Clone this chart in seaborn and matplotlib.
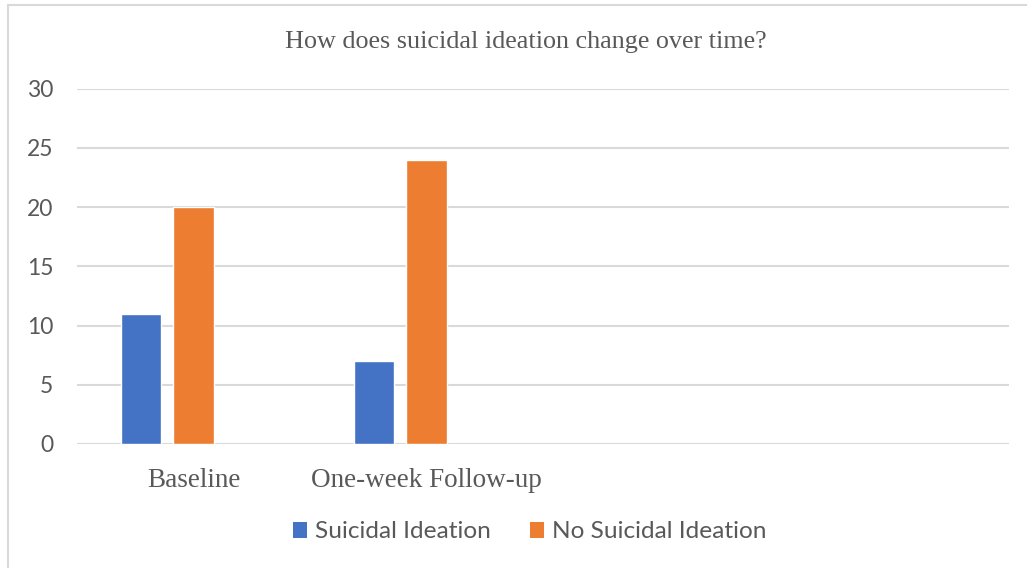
import matplotlib
matplotlib.use("Agg")
import matplotlib.pyplot as plt
import seaborn as sns
import pandas as pd
from matplotlib.lines import Line2D
from matplotlib.patches import Patch

# ---- data ----
categories = ["Baseline", "One-week Follow-up"]
empty_slots = ["", " "]          # two empty category slots on the right
series_names = ["Suicidal Ideation", "No Suicidal Ideation"]
empty_series = "(empty series)"  # third, empty series slot (as in the original chart)
suicidal = [11, 7]
no_suicidal = [20, 24]
yticks = [0, 5, 10, 15, 20, 25, 30]
title = "How does suicidal ideation change over time?"

colors = ["#4472C4", "#ED7D31", "#A5A5A5"]
text_color = "#595959"
grid_color = "#D9D9D9"

df = pd.DataFrame({
    "time": categories * 2,
    "count": suicidal + no_suicidal,
    "group": [series_names[0]] * len(categories) + [series_names[1]] * len(categories),
})

sns.set_theme(style="white")
plt.rcParams['font.family'] = ['Lato', 'DejaVu Sans']

W, H = 1027, 568
fig = plt.figure(figsize=(W / 100, H / 100), dpi=100)
ax = fig.add_axes([77 / W, 1 - 444 / H, (1009 - 77) / W, (444 - 88.5) / H])

sns.barplot(data=df, x="time", y="count", hue="group",
            order=categories + empty_slots,
            hue_order=series_names + [empty_series],
            palette=colors, saturation=1, width=0.67, gap=0.23,
            errorbar=None, legend=False, ax=ax)

ax.set_ylim(0, 30)
ax.set_yticks(yticks)
ax.set_xlim(-0.5, 3.5)
ax.yaxis.grid(True, color=grid_color, lw=1.5)
ax.xaxis.grid(False)
ax.set_axisbelow(True)
for s in ax.spines.values():
    s.set_visible(False)
ax.set_xlabel("")
ax.set_ylabel("")
ax.tick_params(axis="both", length=0)
ax.tick_params(axis="y", pad=17, labelsize=16.5, labelcolor=text_color)
ax.tick_params(axis="x", pad=17, labelcolor=text_color)
for lab in ax.get_xticklabels():
    lab.set_family(["Liberation Serif", "DejaVu Serif"])
    lab.set_fontsize(19.5)

fig.text(526 / W, 1 - 48.3 / H, title, ha="center", va="baseline",
         family=["Liberation Serif", "DejaVu Serif"], fontsize=18.8, color=text_color)

handles = [Patch(facecolor=c, edgecolor="none", label=n) for c, n in zip(colors, series_names)]
fig.legend(handles=handles, loc="center", bbox_to_anchor=(529.5 / W, 1 - 532 / H),
           ncol=2, frameon=False, fontsize=17.6, handlelength=0.6, handleheight=0.6,
           handletextpad=0.3, columnspacing=1.6, labelcolor=text_color)

# chart-area border (left and top visible)
fig.add_artist(Line2D([7.5 / W, 7.5 / W], [0, 1 - 4.5 / H], transform=fig.transFigure,
                      color=grid_color, lw=1.5))
fig.add_artist(Line2D([7.5 / W, 1], [1 - 4.5 / H, 1 - 4.5 / H], transform=fig.transFigure,
                      color=grid_color, lw=1.5))

fig.savefig("out.png", dpi=100)
